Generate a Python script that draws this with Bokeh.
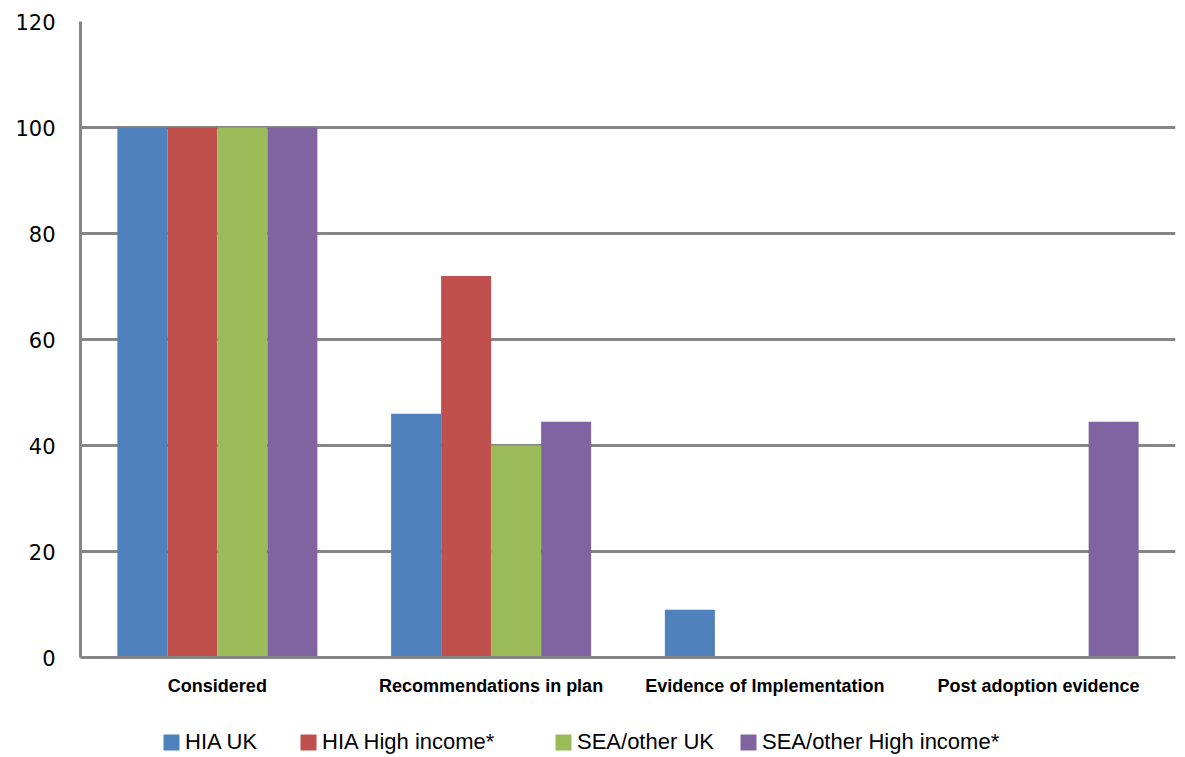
from bokeh.plotting import figure
from bokeh.layouts import column
from bokeh.models import ColumnDataSource, Legend, LegendItem, FixedTicker, Range1d, FactorRange
from bokeh.transform import dodge
from bokeh.embed import file_html
from bokeh.resources import INLINE

categories = ["Considered", "Recommendations in plan", "Evidence of Implementation", "Post adoption evidence"]
series_names = ["HIA UK", "HIA High income*", "SEA/other UK", "SEA/other High income*"]
hia_uk = [100, 46, 9, 0]
hia_high = [100, 72, 0, 0]
sea_uk = [100, 40, 0, 0]
sea_high = [100, 44.5, 0, 44.5]
y_ticks = [0, 20, 40, 60, 80, 100, 120]

colors = ["#4F81BD", "#C0504D", "#9BBB59", "#8064A2"]
offsets = [-0.274, -0.0913, 0.0913, 0.274]
bar_w = 0.1826
GRAY = "#868686"

source = ColumnDataSource(dict(cat=categories, s0=hia_uk, s1=hia_high, s2=sea_uk, s3=sea_high))

p = figure(width=1180, height=700, x_range=FactorRange(*categories, range_padding=0),
           y_range=Range1d(0, 120), output_backend="svg", toolbar_location=None,
           min_border_left=80, min_border_right=5, min_border_top=21, min_border_bottom=43)
p.outline_line_color = None

for i, key in enumerate(["s0", "s1", "s2", "s3"]):
    p.vbar(x=dodge("cat", offsets[i], range=p.x_range), top=key, width=bar_w,
           source=source, fill_color=colors[i], line_color=None)

p.xgrid.grid_line_color = None
p.ygrid.grid_line_color = GRAY
p.ygrid.grid_line_width = 3
p.yaxis.ticker = FixedTicker(ticks=y_ticks)
p.ygrid.ticker = FixedTicker(ticks=y_ticks)

p.yaxis.axis_line_color = GRAY
p.yaxis.axis_line_width = 3
p.yaxis.major_tick_line_color = None
p.yaxis.minor_tick_line_color = None
p.yaxis.major_label_text_font = "DejaVu Sans"
p.yaxis.major_label_text_font_size = "21px"
p.yaxis.major_label_text_color = "black"
p.yaxis.major_label_standoff = 19

p.xaxis.axis_line_color = GRAY
p.xaxis.axis_line_width = 3
p.xaxis.major_tick_line_color = None
p.xaxis.minor_tick_line_color = None
p.xaxis.major_label_text_font = "Liberation Sans"
p.xaxis.major_label_text_font_style = "bold"
p.xaxis.major_label_text_font_size = "18px"
p.xaxis.major_label_text_color = "black"
p.xaxis.major_label_standoff = 12

# legend strip (its frame is aligned with the chart frame by the column layout)
lg = figure(width=1180, height=55, x_range=Range1d(0, 1180), y_range=Range1d(0, 55),
            output_backend="svg", toolbar_location=None,
            min_border_left=0, min_border_right=0, min_border_top=0, min_border_bottom=0)
lg.axis.visible = False
lg.grid.visible = False
lg.outline_line_color = None

legend_x = [81, 218, 473, 658]
for i in range(4):
    # zero-size placeholder glyph that only supplies the legend swatch colour
    r = lg.vbar(x=[0], top=[0], width=0, fill_color=colors[i], line_color=None)
    leg = Legend(items=[LegendItem(label=series_names[i], renderers=[r])],
                 location=(legend_x[i], 0), glyph_width=20, glyph_height=20,
                 label_standoff=4, label_text_font="Liberation Sans",
                 label_text_font_size="22px", label_text_color="black",
                 border_line_color=None, background_fill_alpha=0, margin=0, padding=0)
    lg.add_layout(leg, "center")

layout = column(p, lg, spacing=0)
open("out.html", "w").write(file_html(layout, INLINE))
